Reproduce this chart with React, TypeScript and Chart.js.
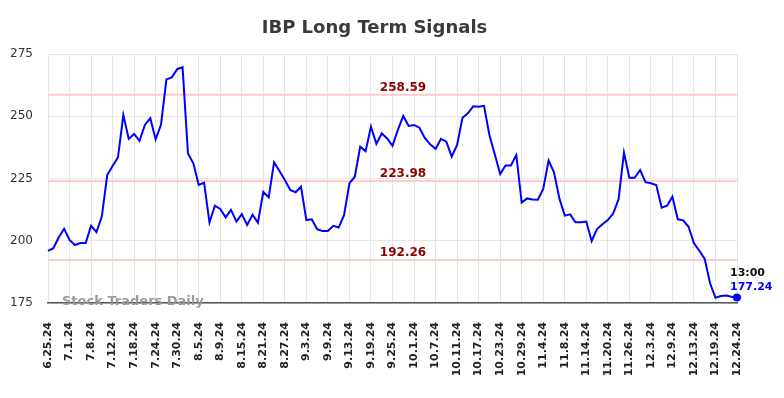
import React, { useEffect, useRef } from "react";
import { Chart, registerables } from "chart.js";

Chart.register(...registerables);

const TITLE = "IBP Long Term Signals";
const WATERMARK = "Stock Traders Daily";
const LAST_TIME = "13:00";

const tickLabels = [
  "6.25.24", "7.1.24", "7.8.24", "7.12.24", "7.18.24", "7.24.24", "7.30.24",
  "8.5.24", "8.9.24", "8.15.24", "8.21.24", "8.27.24", "9.3.24", "9.9.24",
  "9.13.24", "9.19.24", "9.25.24", "10.1.24", "10.7.24", "10.11.24", "10.17.24",
  "10.23.24", "10.29.24", "11.4.24", "11.8.24", "11.14.24", "11.20.24",
  "11.26.24", "12.3.24", "12.9.24", "12.13.24", "12.19.24", "12.24.24",
];

const prices = [
  195.9, 197.0, 201.4, 204.8, 200.3, 198.3, 199.1, 199.1, 206.0, 203.5,
  209.7, 226.4, 230.0, 233.5, 250.5, 240.9, 242.9, 240.1, 246.5, 249.2,
  240.7, 246.7, 264.8, 265.6, 268.9, 269.7, 235.1, 231.1, 222.4, 223.3,
  207.3, 214.1, 212.8, 209.4, 212.4, 207.7, 210.7, 206.3, 210.5, 207.3,
  219.6, 217.4, 231.5, 228.0, 224.4, 220.4, 219.5, 221.7, 208.3, 208.6,
  204.6, 203.9, 203.9, 206.0, 205.3, 210.3, 223.1, 225.7, 237.8, 236.0,
  245.8, 238.9, 243.1, 241.1, 238.1, 244.5, 250.1, 246.1, 246.5, 245.4,
  241.3, 238.7, 236.9, 240.9, 239.8, 233.8, 238.5, 249.4, 251.2, 254.0,
  253.8, 254.2, 242.5, 234.7, 226.8, 230.2, 230.2, 234.4, 215.3, 217.0,
  216.6, 216.5, 220.8, 232.2, 227.5, 217.0, 210.1, 210.6, 207.4, 207.4,
  207.7, 199.9, 204.7, 206.6, 208.3, 210.9, 216.7, 235.4, 225.3, 225.3,
  228.4, 223.5, 223.1, 222.4, 213.3, 214.1, 217.7, 208.6, 208.2, 205.6,
  199.0, 196.0, 192.7, 182.9, 177.1, 177.8, 178.0, 177.5, 177.24,
];

const levels = [258.59, 223.98, 192.26];

const FONT = "'DejaVu Sans', sans-serif";

const overlayPlugin = {
  id: "overlay",
  beforeDatasetsDraw(chart: any) {
    const { ctx, chartArea, scales } = chart;
    const y = scales.y;
    ctx.save();
    ctx.strokeStyle = "#ffcccc";
    ctx.lineWidth = 2;
    levels.forEach((lv) => {
      const py = y.getPixelForValue(lv);
      ctx.beginPath();
      ctx.moveTo(chartArea.left, py);
      ctx.lineTo(chartArea.right, py);
      ctx.stroke();
    });
    ctx.fillStyle = "#8b0000";
    ctx.font = `bold 12px ${FONT}`;
    ctx.textAlign = "center";
    ctx.textBaseline = "alphabetic";
    const cx = 403;
    levels.forEach((lv) => {
      const py = y.getPixelForValue(lv);
      ctx.fillText(lv.toFixed(2), cx, py - 4);
    });
    ctx.restore();
  },
  afterDraw(chart: any) {
    const { ctx, chartArea, scales } = chart;
    ctx.save();
    // title
    ctx.fillStyle = "#3a3a3a";
    ctx.font = `bold 18px ${FONT}`;
    ctx.textAlign = "center";
    ctx.textBaseline = "alphabetic";
    ctx.fillText(TITLE, 374.5, 33);
    // watermark
    ctx.fillStyle = "rgba(150,150,150,0.95)";
    ctx.font = `bold 13px ${FONT}`;
    ctx.textAlign = "left";
    ctx.textBaseline = "middle";
    ctx.fillText(WATERMARK, chartArea.left + 14, chartArea.bottom - 1);
    // last point annotation
    const li = prices.length - 1;
    const px = scales.x.getPixelForValue(li);
    const py = scales.y.getPixelForValue(prices[li]);
    ctx.textAlign = "left";
    ctx.textBaseline = "alphabetic";
    ctx.font = `bold 11px ${FONT}`;
    ctx.fillStyle = "#111";
    ctx.fillText(LAST_TIME, px - 7, py - 21);
    ctx.fillStyle = "#0000ff";
    ctx.fillText(prices[li].toFixed(2), px - 7, py - 7);
    ctx.restore();
  },
};

export default function App() {
  const ref = useRef<HTMLCanvasElement | null>(null);

  useEffect(() => {
    if (!ref.current) return;
    const last = prices.length - 1;
    const chart = new Chart(ref.current, {
      type: "line",
      data: {
        datasets: [
          {
            data: prices.map((v, i) => ({ x: i, y: v })),
            borderColor: "#0000ff",
            backgroundColor: "#0000ff",
            borderWidth: 2,
            tension: 0,
            clip: false,
            pointRadius: (c: any) => (c.dataIndex === last ? 4 : 0),
            pointHoverRadius: 0,
            pointBorderWidth: 0,
          },
        ],
      },
      options: {
        responsive: false,
        animation: false,
        layout: { padding: { top: 54, right: 47, left: 0, bottom: 0 } },
        plugins: {
          legend: { display: false },
          title: { display: false },
          tooltip: { enabled: false },
        },
        scales: {
          x: {
            type: "linear",
            min: 0,
            max: prices.length - 1,
            afterFit: (s: any) => {
              s.height = 95;
            },
            ticks: {
              stepSize: 4,
              autoSkip: false,
              maxRotation: 90,
              minRotation: 90,
              padding: 19,
              color: "#222",
              font: { family: FONT, size: 11, weight: "bold" },
              callback: (v: any) => {
                const k = Math.round(Number(v) / 4);
                return Number(v) % 4 === 0 ? tickLabels[k] : "";
              },
            },
            grid: { color: "#e6e6e6", lineWidth: 1, drawTicks: false },
            border: { display: true, color: "#555", width: 1.5 },
          },
          y: {
            min: 175,
            max: 275,
            afterFit: (s: any) => {
              s.width = 48;
            },
            ticks: {
              stepSize: 25,
              padding: 15,
              color: "#333",
              font: { family: FONT, size: 12 },
            },
            grid: { color: "#e6e6e6", lineWidth: 1, drawTicks: false },
            border: { display: false },
          },
        },
      },
      plugins: [overlayPlugin],
    } as any);
    return () => chart.destroy();
  }, []);

  return (
    <div style={{ position: "absolute", left: 0, top: 0, width: 784, height: 398, background: "#fff" }}>
      <canvas ref={ref} width={784} height={398} />
    </div>
  );
}
